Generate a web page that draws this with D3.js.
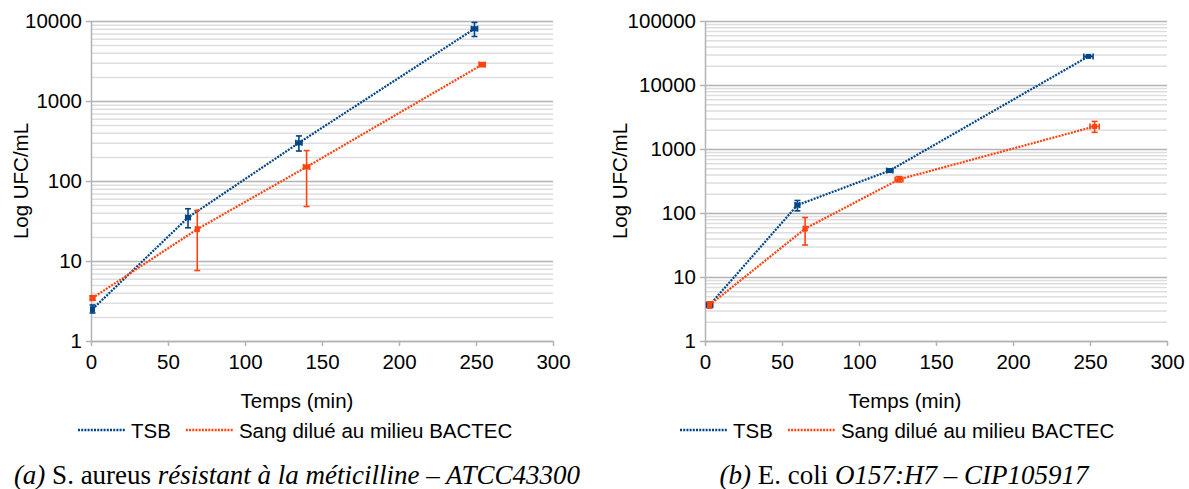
<!DOCTYPE html>
<html><head><meta charset="utf-8">
<script src="https://cdn.jsdelivr.net/npm/d3@7"></script>
<style>
body{margin:0;background:#fff;}
svg{display:block;}
text{font-family:"Liberation Sans",Arial,sans-serif;}
</style>
</head><body>
<svg id="c" width="1189" height="489"></svg>
<script>
// ---------- data ----------
const timeTicks = [0, 50, 100, 150, 200, 250, 300];
const seriesNames = ["TSB", "Sang dilué au milieu BACTEC"];
const yTicksA = [1, 10, 100, 1000, 10000];
const yTicksB = [1, 10, 100, 1000, 10000, 100000];

// (a) S. aureus
const aTsbTime = [1, 63, 135, 249];
const aTsbVal  = [2.5, 35, 300, 8000];
const aTsbLow  = [2.24, 26, 237, 6400];
const aTsbHigh = [2.82, 45, 366, 9600];
const aTsbTErr = [1, 1.5, 2, 2];
const aSangTime = [1, 69, 140, 254];
const aSangVal  = [3.45, 25, 150, 2850];
const aSangLow  = [3.22, 7.6, 48, 2690];
const aSangHigh = [3.68, 43, 240, 3020];
const aSangTErr = [1.5, 1, 2, 2];

// (b) E. coli
const bTsbTime = [3, 60, 120, 249];
const bTsbVal  = [3.65, 133, 460, 28000];
const bTsbLow  = [3.3, 108, 435, 27000];
const bTsbHigh = [4.1, 157, 490, 29000];
const bTsbTErr = [2, 1.5, 2, 3];
const bSangTime = [3, 65, 126, 253];
const bSangVal  = [3.65, 57, 335, 2250];
const bSangLow  = [3.3, 31.6, 305, 1820];
const bSangHigh = [4.1, 85, 370, 2700];
const bSangTErr = [1, 1, 2.5, 3];

const colors = ["#004586", "#ff420e"];
const FS = 20.5;

function pack(t, v, lo, hi, te){ return t.map((d,i)=>({t:d, v:v[i], lo:lo[i], hi:hi[i], te:te[i]})); }

const panels = [
  {x0:91, x1:553, yTop:21, yBot:341, yMax:10000, yTicks:yTicksA,
   series:[pack(aTsbTime,aTsbVal,aTsbLow,aTsbHigh,aTsbTErr), pack(aSangTime,aSangVal,aSangLow,aSangHigh,aSangTErr)],
   ytitleX:20, xtitleX:297, legendX:78, captionX:297,
   caption:[["(a) ","i"],["S. aureus ","n"],["résistant à la méticilline – ATCC43300","i"]]},
  {x0:705, x1:1167, yTop:21, yBot:341, yMax:100000, yTicks:yTicksB,
   series:[pack(bTsbTime,bTsbVal,bTsbLow,bTsbHigh,bTsbTErr), pack(bSangTime,bSangVal,bSangLow,bSangHigh,bSangTErr)],
   ytitleX:619, xtitleX:905, legendX:680, captionX:904,
   caption:[["(b) ","i"],["E. coli ","n"],["O157:H7 – CIP105917","i"]]}
];

const svg = d3.select("#c");
const major = "#b3b3b3", minor = "#dedede";

panels.forEach(p => {
  const x = d3.scaleLinear().domain([0,300]).range([p.x0,p.x1]);
  const y = d3.scaleLog().domain([1,p.yMax]).range([p.yBot,p.yTop]);
  const g = svg.append("g");

  // minor gridlines
  const minorVals = [];
  for (let dec=1; dec<p.yMax; dec*=10) for (let k=2;k<=9;k++) minorVals.push(dec*k);
  g.append("g").attr("transform",`translate(${p.x0},0)`)
    .call(d3.axisLeft(y).tickValues(minorVals).tickSize(-(p.x1-p.x0)).tickFormat(""))
    .call(a=>a.select(".domain").remove())
    .call(a=>a.selectAll("line").attr("stroke",minor).attr("stroke-width",1.5));

  // major gridlines + labels
  g.append("g").attr("transform",`translate(${p.x0},0)`)
    .call(d3.axisLeft(y).tickValues(p.yTicks).tickSizeInner(-(p.x1-p.x0)).tickSizeOuter(0).tickPadding(9).tickFormat(d3.format("d")))
    .call(a=>a.select(".domain").attr("stroke",major).attr("stroke-width",1.5))
    .call(a=>a.selectAll("line").attr("stroke",major).attr("stroke-width",1.5).attr("x1",-5))
    .call(a=>a.selectAll("text").attr("font-size",FS).attr("fill","#000").attr("font-family","Liberation Sans, Arial, sans-serif"));

  // x axis
  g.append("g").attr("transform",`translate(0,${p.yBot})`)
    .call(d3.axisBottom(x).tickValues(timeTicks).tickSizeInner(5).tickSizeOuter(0).tickPadding(8))
    .call(a=>a.select(".domain").attr("stroke",major).attr("stroke-width",1.5))
    .call(a=>a.selectAll("line").attr("stroke",major).attr("stroke-width",1.5))
    .call(a=>a.selectAll("text").attr("font-size",FS).attr("fill","#000").attr("font-family","Liberation Sans, Arial, sans-serif"));

  // series
  p.series.forEach((s,si) => {
    const c = colors[si];
    g.append("path").datum(s)
      .attr("d", d3.line().x(d=>x(d.t)).y(d=>y(d.v)))
      .attr("fill","none").attr("stroke",c).attr("stroke-width",2.2).attr("stroke-dasharray","2,1.2");
    const eg = g.append("g").attr("stroke",c).attr("stroke-width",1.6).attr("fill","none");
    s.forEach(d => {
      const cx=x(d.t), cy=y(d.v), yl=y(d.lo), yh=y(d.hi), xl=x(d.t-d.te), xh=x(d.t+d.te);
      eg.append("line").attr("x1",cx).attr("x2",cx).attr("y1",yl).attr("y2",yh);
      eg.append("line").attr("x1",cx-3).attr("x2",cx+3).attr("y1",yl).attr("y2",yl);
      eg.append("line").attr("x1",cx-3).attr("x2",cx+3).attr("y1",yh).attr("y2",yh);
      eg.append("line").attr("x1",xl).attr("x2",xh).attr("y1",cy).attr("y2",cy);
      eg.append("line").attr("x1",xl).attr("x2",xl).attr("y1",cy-3).attr("y2",cy+3);
      eg.append("line").attr("x1",xh).attr("x2",xh).attr("y1",cy-3).attr("y2",cy+3);
    });
    g.selectAll(null).data(s).enter().append("rect")
      .attr("x",d=>x(d.t)-2.5).attr("y",d=>y(d.v)-2.5).attr("width",5).attr("height",5).attr("fill",c);
  });

  // axis titles
  g.append("text").attr("transform",`translate(${p.ytitleX},${(p.yTop+p.yBot)/2}) rotate(-90)`)
    .attr("text-anchor","middle").attr("dominant-baseline","central").attr("font-size",FS).text("Log UFC/mL");
  g.append("text").attr("x",p.xtitleX).attr("y",400).attr("text-anchor","middle").attr("dominant-baseline","central")
    .attr("font-size",FS).text("Temps (min)");

  // legend
  let lx = p.legendX;
  seriesNames.forEach((n,i) => {
    g.append("line").attr("x1",lx).attr("x2",lx+47).attr("y1",430).attr("y2",430)
      .attr("stroke",colors[i]).attr("stroke-width",2.5).attr("stroke-dasharray","2,1.2");
    const t = g.append("text").attr("x",lx+53).attr("y",430).attr("dominant-baseline","central").attr("font-size",FS).text(n);
    lx += 53 + t.node().getComputedTextLength() + 15;
  });

  // caption
  const cap = g.append("text").attr("x",p.captionX).attr("y",484).attr("text-anchor","middle")
    .attr("font-size",27).style("font-family","'Liberation Serif','Times New Roman',serif");
  p.caption.forEach(([txt,st]) => cap.append("tspan").attr("font-style",st==="i"?"italic":"normal").text(txt));
});
</script>
</body></html>
